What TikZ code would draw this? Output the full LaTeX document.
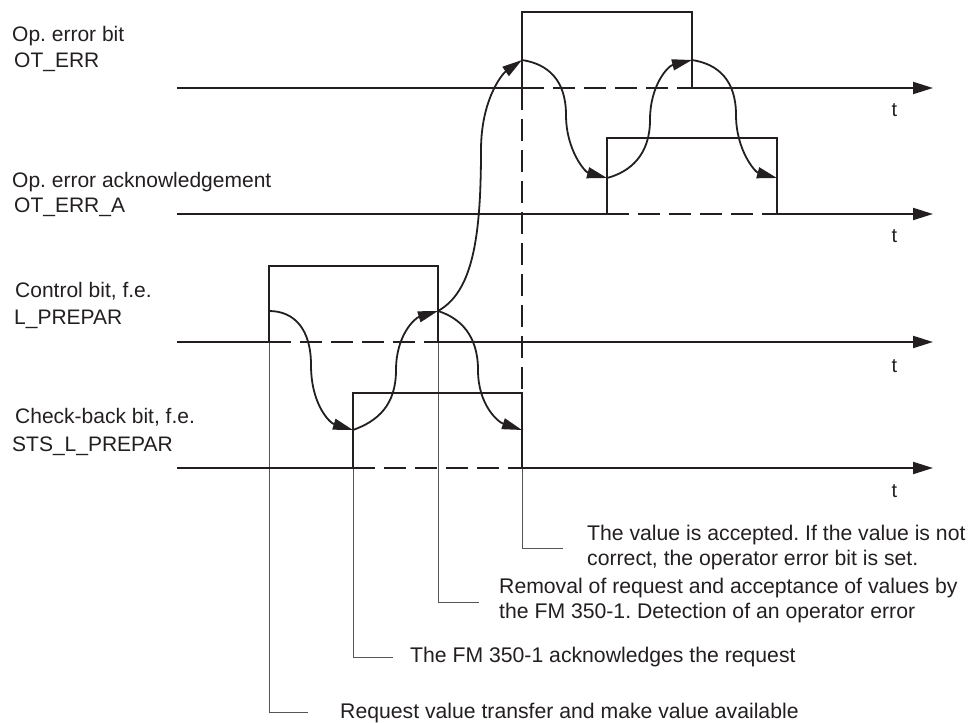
\documentclass[tikz,border=0pt]{standalone}
\usepackage{fontspec}
\setmainfont{Liberation Sans}
\usetikzlibrary{arrows.meta}
\definecolor{ink}{RGB}{35,31,32}
\definecolor{lead}{RGB}{85,85,85}
\frenchspacing
\begin{document}
\begin{tikzpicture}[x=1pt,y=-1pt,
  sig/.style={draw=ink,line width=2pt,line join=miter},
  dsh/.style={draw=ink,line width=1.9pt,dash pattern=on 22pt off 9pt},
  axisline/.style={draw=ink,line width=2pt,-{Triangle[length=20pt,width=12pt]}},
  curv/.style={draw=ink,line width=1.8pt,-{Triangle[length=20pt,width=11pt]}},
  leader/.style={draw=lead,line width=1pt},
  lbl/.style={anchor=base west,inner sep=0pt,font=\fontsize{21}{25}\selectfont,text=ink},
  note/.style={anchor=base west,inner sep=0pt,font=\fontsize{21.2}{25}\selectfont,text=ink},
  tlbl/.style={anchor=base,inner sep=0pt,font=\fontsize{20}{24}\selectfont,text=ink}]
\useasboundingbox (0,0) rectangle (973,722);

% ---------- coordinates ----------
% OT_ERR
\coordinate (A0) at (177,88);  \coordinate (Ar) at (522,88);
\coordinate (Arh) at (522,12); \coordinate (Afh) at (692,12);
\coordinate (Af) at (692,88);  \coordinate (Aend) at (933,88);
\coordinate (Ae1) at (522,60); \coordinate (Ae2) at (692,60);
% OT_ERR_A
\coordinate (B0) at (177,214); \coordinate (Br) at (607,214);
\coordinate (Brh) at (607,138); \coordinate (Bfh) at (777,138);
\coordinate (Bf) at (777,214); \coordinate (Bend) at (933,214);
\coordinate (Be1) at (607,178); \coordinate (Be2) at (777,178);
% L_PREPAR
\coordinate (C0) at (177,342); \coordinate (Cr) at (269,342);
\coordinate (Crh) at (269,266); \coordinate (Cfh) at (438,266);
\coordinate (Cf) at (438,342); \coordinate (Cend) at (933,342);
\coordinate (Ce1) at (269,311); \coordinate (Ce2) at (438,311);
% STS_L_PREPAR
\coordinate (D0) at (177,468); \coordinate (Dr) at (353,468);
\coordinate (Drh) at (353,393); \coordinate (Dfh) at (522,393);
\coordinate (Df) at (522,468); \coordinate (Dend) at (933,468);
\coordinate (De1) at (353,430); \coordinate (De2) at (522,430);
% leader corners
\coordinate (L1) at (269,712); \coordinate (L1e) at (308,712);
\coordinate (L2) at (353,657); \coordinate (L2e) at (393,657);
\coordinate (L3) at (438,602); \coordinate (L3e) at (479,602);
\coordinate (L4) at (522,548); \coordinate (L4e) at (563,548);

% ---------- leader lines ----------
\draw[leader] (Cr) -- (L1) -- (L1e);
\draw[leader] (Dr) -- (L2) -- (L2e);
\draw[leader] (Cf) -- (L3) -- (L3e);
\draw[leader] (Df) -- (L4) -- (L4e);

% ---------- OT_ERR ----------
\draw[sig] (A0) -- (Ar);
\draw[sig] (Ar) -- (Arh) -- (Afh) -- (Af);
\draw[dsh] (Ar) -- (Af);
\draw[axisline] (Af) -- (Aend);
\draw[dsh] (Ar) -- (Dfh);

% ---------- OT_ERR_A ----------
\draw[sig] (B0) -- (Br);
\draw[sig] (Br) -- (Brh) -- (Bfh) -- (Bf);
\draw[dsh] (Br) -- (Bf);
\draw[axisline] (Bf) -- (Bend);

% ---------- L_PREPAR ----------
\draw[sig] (C0) -- (Cr);
\draw[sig] (Cr) -- (Crh) -- (Cfh) -- (Cf);
\draw[dsh] (Cr) -- (Cf);
\draw[axisline] (Cf) -- (Cend);

% ---------- STS_L_PREPAR ----------
\draw[sig] (D0) -- (Dr);
\draw[sig] (Dr) -- (Drh) -- (Dfh) -- (Df);
\draw[dsh] (Dr) -- (Df);
\draw[axisline] (Df) -- (Dend);

% ---------- curved arrows ----------
\draw[curv] (Ce1) .. controls (295,311) and (311,330) .. (311,365)
            .. controls (311,405) and (330,423) .. (De1);
\draw[curv] (De1) .. controls (378,421) and (396,405) .. (396,370)
            .. controls (396,335) and (415,318) .. (Ce2);
\draw[curv] (Ce2) .. controls (460,318) and (478,335) .. (478,370)
            .. controls (478,405) and (498,422) .. (De2);
\draw[curv] (Ce2) .. controls (472,292) and (481,240) .. (481,150)
            .. controls (481,100) and (502,74) .. (Ae1);
\draw[curv] (Ae1) .. controls (548,64) and (566,80) .. (566,115)
            .. controls (566,150) and (585,172) .. (Be1);
\draw[curv] (Be1) .. controls (630,172) and (650,155) .. (650,120)
            .. controls (650,85) and (668,66) .. (Ae2);
\draw[curv] (Ae2) .. controls (718,64) and (736,80) .. (736,115)
            .. controls (736,150) and (755,172) .. (Be2);

% ---------- signal labels ----------
\node[lbl] (la1) at (12,42) {Op. error bit};
\node[lbl] (la2) at (14,67.5) {OT\_ERR};
\node[lbl] (lb1) at (12,187) {Op. error acknowledgement};
\node[lbl] (lb2) at (14,212) {OT\_ERR\_A};
\node[lbl] (lc1) at (15,297.5) {Control bit, f.e.};
\node[lbl] (lc2) at (14,324) {L\_PREPAR};
\node[lbl] (ld1) at (15,423) {Check-back bit, f.e.};
\node[lbl] (ld2) at (12,451.5) {STS\_L\_PREPAR};

% ---------- time labels ----------
\node[tlbl] (ta) at (894.5,117) {t};
\node[tlbl] (tb) at (894.5,242) {t};
\node[tlbl] (tc) at (894.5,372) {t};
\node[tlbl] (td) at (894.5,497) {t};

% ---------- annotations ----------
\node[note] (n4a) at (587,540) {The value is accepted. If the value is not};
\node[note] (n4b) at (587,565) {correct, the operator error bit is set.};
\node[note] (n3a) at (499,593) {Removal of request and acceptance of values by};
\node[note] (n3b) at (499,618) {the FM 350-1. Detection of an operator error};
\node[note] (n2) at (410,662) {The FM 350-1 acknowledges the request};
\node[note] (n1) at (340,718) {Request value transfer and make value available};
\end{tikzpicture}
\end{document}
